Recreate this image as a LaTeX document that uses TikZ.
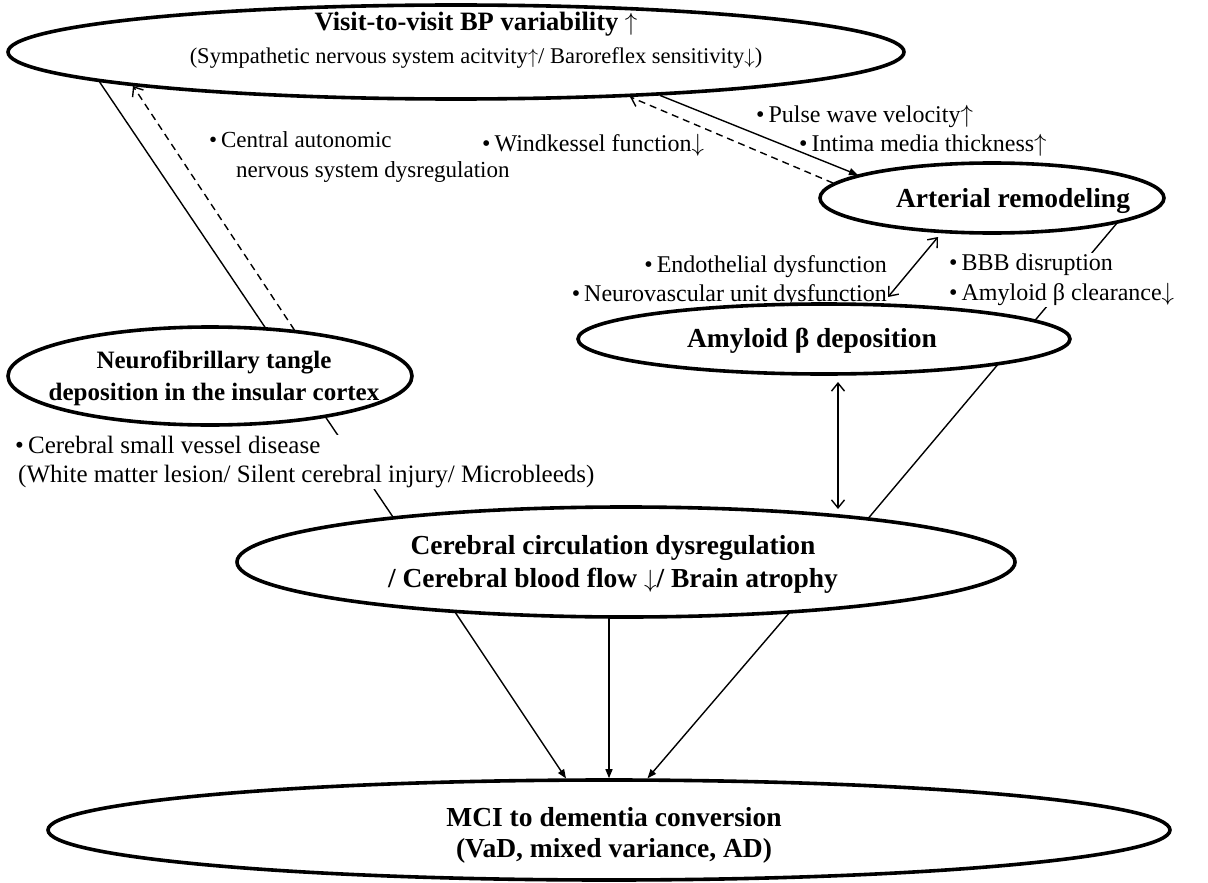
\documentclass[tikz,border=0pt]{standalone}
\usepackage{fontspec}
\setmainfont{Liberation Serif}
\usetikzlibrary{arrows.meta,shapes.geometric,calc}
\pgfdeclarelayer{bg}
\pgfsetlayers{bg,main}
\newcommand{\upa}{$\uparrow$}
\newcommand{\dna}{$\downarrow$}
\tikzset{
  openv/.tip={Straight Barb[length=8pt,width=13pt]},
  fillt/.tip={Triangle[length=9pt,width=7pt]},
  ell/.style={ellipse, draw, line width=3.6pt, fill=white, inner sep=0pt},
  btxt/.style={font=\fontsize{27.5}{33}\selectfont\bfseries, align=center, inner sep=0pt},
  rtxt/.style={font=\fontsize{24}{29.5}\selectfont, inner sep=1pt},
  conn/.style={line width=1.4pt},
  dsh/.style={conn, dash pattern=on 7pt off 5pt},
}
\begin{document}
\begin{tikzpicture}[x=1pt,y=-1pt]
\useasboundingbox (0,0) rectangle (1208,883);

% ellipses
\node[ell, minimum width=896pt, minimum height=94pt,
  label={[align=center, inner sep=0pt, xshift=20pt, yshift=12pt, font=\fontsize{22.5}{33}\selectfont]center:{{\fontsize{26.5}{33}\selectfont\bfseries Visit-to-visit BP variability \upa}\\(Sympathetic nervous system acitvity\upa/ Baroreflex sensitivity\dna)}}]
  (top) at (456,52) {};
\node[ell, minimum width=344pt, minimum height=70pt,
  label={[btxt, xshift=21pt, yshift=-3pt]center:{Arterial remodeling}}]
  (art) at (992,198) {};
\node[ell, minimum width=492pt, minimum height=70pt,
  label={[btxt, xshift=-12pt, yshift=-2pt]center:{Amyloid β deposition}}]
  (amy) at (824,339) {};
\node[ell, minimum width=404pt, minimum height=98pt,
  label={[btxt, font=\fontsize{25}{32}\selectfont\bfseries, xshift=4pt, yshift=-2pt]center:{Neurofibrillary tangle\\deposition in the insular cortex}}]
  (nft) at (210,376) {};
\node[ell, minimum width=778pt, minimum height=110pt,
  label={[btxt, xshift=-13pt, yshift=-2pt]center:{Cerebral circulation dysregulation\\/ Cerebral blood flow \dna/ Brain atrophy}}]
  (cer) at (626,562) {};
\node[ell, minimum width=1122pt, minimum height=100pt,
  label={[btxt, xshift=5pt, yshift=-5pt, font=\fontsize{27.5}{31}\selectfont\bfseries]center:{MCI to dementia conversion\\(VaD, mixed variance, AD)}}]
  (mci) at (609,830) {};

% text labels
\node[rtxt, font=\fontsize{23}{29.5}\selectfont, anchor=west, align=left] (cant) at (208,157) {•\,Central autonomic\\\hspace*{27pt}nervous system dysregulation};
\node[rtxt, anchor=west] (pwv) at (755,116) {•\,Pulse wave velocity\upa};
\node[rtxt, anchor=west] (imt) at (798,145) {•\,Intima media thickness\upa};
\node[rtxt, anchor=west] (wind) at (481,145) {•\,Windkessel function\dna};
\node[rtxt, anchor=east, align=right] (endo) at (888,281) {•\,Endothelial dysfunction\\•\,Neurovascular unit dysfunction};
\node[rtxt, anchor=west, align=left, fill=white] (bbb) at (948,280) {•\,BBB disruption\\•\,Amyloid β clearance\dna};
\node[rtxt, font=\fontsize{25}{29.5}\selectfont, anchor=west, align=left, fill=white] (csvd) at (14,462) {•\,Cerebral small vessel disease\\\hspace*{3pt}(White matter lesion/ Silent cerebral injury/ Microbleeds)};

% connector end points, relative to their nodes
\coordinate (ta) at ($(top.center)+(-364.5,18)$);
\coordinate (ca) at ($(cer.center)+(-217.5,-22)$);
\coordinate (ag) at ($(art.center)+(136,12)$);
\coordinate (cg) at ($(cer.center)+(224,-22)$);
\coordinate (nb) at ($(nft.center)+(84.4,-46)$);
\coordinate (tb) at ($(top.center)+(-323,34)$);
\coordinate (tc) at ($(top.center)+(204,43.4)$);
\coordinate (ac) at ($(art.center)+(-134,-23)$);
\coordinate (ad) at ($(art.center)+(-159,-15)$);
\coordinate (td) at ($(top.center)+(174,44.9)$);
\coordinate (ae) at ($(art.center)+(-54,39)$);
\coordinate (me) at ($(amy.center)+(64,-42)$);
\coordinate (mf) at ($(amy.center)+(14,43)$);
\coordinate (cf) at ($(cer.center)+(212,-53)$);
\coordinate (c1) at ($(cer.center)+(-171,50)$);
\coordinate (m1) at ($(mci.center)+(-43,-51.6)$);
\coordinate (c2) at ($(cer.center)+(-17,55)$);
\coordinate (m2) at ($(mci.center)+(0,-51.8)$);
\coordinate (c3) at ($(cer.center)+(164,50)$);
\coordinate (m3) at ($(mci.center)+(38.5,-51.7)$);

% connectors hidden behind nodes
\begin{pgfonlayer}{bg}
\draw[conn] (ta) -- (ca);
\draw[conn] (ag) -- (cg);
\end{pgfonlayer}

% arrows
\draw[dsh, -openv] (nb) -- (tb);
\draw[conn, -fillt] (tc) -- (ac);
\draw[dsh, -openv] (ad) -- (td);
\draw[conn, openv-openv] (me) -- (ae);
\draw[conn, openv-openv] (mf) -- (cf);
\draw[conn, -fillt] (c1) -- (m1);
\draw[conn, -fillt] (c2) -- (m2);
\draw[conn, -fillt] (c3) -- (m3);
\end{tikzpicture}
\end{document}
